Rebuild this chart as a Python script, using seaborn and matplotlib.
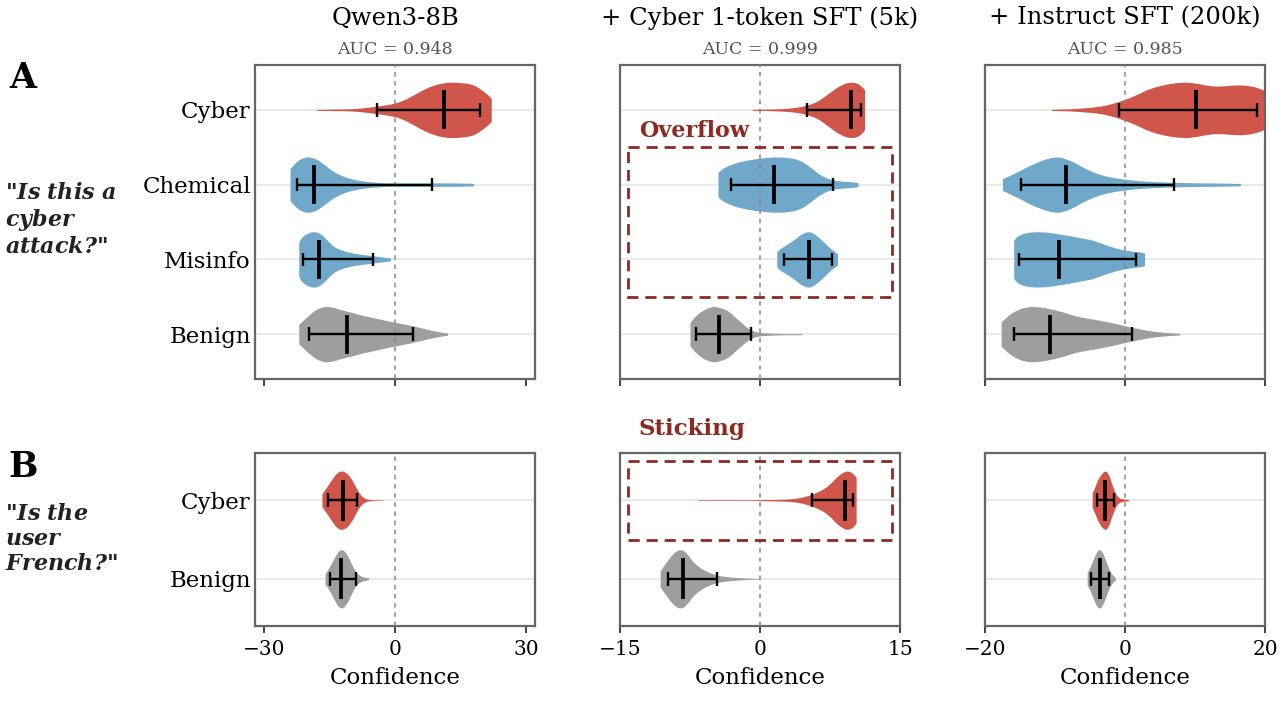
import numpy as np
import matplotlib
matplotlib.use("Agg")
import matplotlib.pyplot as plt
from matplotlib.patches import Rectangle
import seaborn as sns

# ---- data ----
models = ["Qwen3-8B", "+ Cyber 1-token SFT (5k)", "+ Instruct SFT (200k)"]
auc = ["0.948", "0.999", "0.985"]
cats_a = ["Cyber", "Chemical", "Misinfo", "Benign"]
cats_b = ["Cyber", "Benign"]
xlims = [(-32, 32), (-15, 15), (-20, 20)]
xticks = [[-30, 0, 30], [-15, 0, 15], [-20, 0, 20]]

# each violin: grid of confidence values and how many samples sit at each
# (counts follow the violin width)
qwen_a_vals = [
    [-18, -16, -14, -12, -10, -8, -6, -4, -2, 0, 2, 4, 6, 8, 10, 12, 14, 16, 18, 20, 22],
    [-24, -22, -20, -18, -16, -14, -12, -10, -8, -6, -4, -2, 0, 2, 4, 6, 8, 10, 12, 14, 16, 18],
    [-22, -21, -20, -19, -18, -17, -16, -15, -14, -13, -12, -11, -10, -9, -8, -7, -6, -5, -4, -3, -2, -1],
    [-22, -20, -18, -16, -14, -12, -10, -8, -6, -4, -2, 0, 2, 4, 6, 8, 10, 12],
]
qwen_a_counts = [
    [2, 2, 3, 3, 4, 6, 10, 14, 18, 24, 35, 52, 70, 85, 95, 100, 100, 97, 92, 70, 45],
    [60, 90, 100, 92, 68, 44, 30, 20, 14, 10, 8, 6, 6, 6, 6, 6, 6, 6, 6, 6, 5, 5],
    [70, 85, 95, 100, 100, 92, 78, 60, 46, 38, 32, 28, 24, 21, 19, 17, 15, 13, 11, 9, 7, 5],
    [35, 64, 90, 100, 95, 84, 78, 68, 62, 55, 48, 42, 36, 30, 22, 15, 8, 4],
]
qwen_a_lo = [-4.1, -22.3, -21.1, -19.6]
qwen_a_med = [11.2, -18.5, -17.4, -11.0]
qwen_a_hi = [19.4, 8.4, -5.0, 4.2]

cyber_a_vals = [
    [-0.8, 0.2, 1.2, 2.2, 3.2, 4.2, 5.2, 6.2, 7.2, 8.2, 9.2, 10.2, 11.2],
    [-4.5, -3.5, -2.5, -1.5, -0.5, 0.5, 1.5, 2.5, 3.5, 4.5, 5.5, 6.5, 7.5, 8.5, 9.5, 10.5],
    [1.8, 2.3, 2.8, 3.3, 3.8, 4.3, 4.8, 5.3, 5.8, 6.3, 6.8, 7.3, 7.8, 8.3],
    [-7.5, -7, -6.5, -6, -5.5, -5, -4.5, -4, -3.5, -3, -2.5, -2, -1.5, -1, -0.5,
     0, 0.5, 1, 1.5, 2, 2.5, 3, 3.5, 4, 4.5],
]
cyber_a_counts = [
    [2, 2, 3, 4, 6, 10, 18, 30, 55, 80, 97, 100, 80],
    [50, 68, 80, 88, 93, 97, 100, 99, 96, 85, 60, 33, 18, 13, 11, 8],
    [30, 42, 52, 62, 74, 88, 97, 100, 92, 78, 63, 46, 32, 22],
    [45, 62, 78, 88, 96, 100, 97, 92, 85, 72, 55, 42, 26, 15, 9, 6, 5, 4, 3, 3, 2, 2, 2, 2, 2],
]
cyber_a_lo = [5.0, -3.1, 2.6, -6.9]
cyber_a_med = [9.7, 1.5, 5.3, -4.4]
cyber_a_hi = [10.8, 7.8, 7.7, -1.0]

inst_a_vals = [
    [-10.5, -9, -7.5, -6, -4.5, -3, -1.5, 0, 1.5, 3, 4.5, 6, 7.5, 9, 10.5, 12, 13.5,
     15, 16.5, 18, 19.5, 21],
    [-17.5, -15.5, -13.5, -11.5, -9.5, -7.5, -5.5, -3.5, -1.5, 0.5, 2.5, 4.5, 6.5,
     8.5, 10.5, 12.5, 14.5, 16.5],
    [-15.9, -14.8, -13.7, -12.6, -11.5, -10.4, -9.3, -8.2, -7.1, -6.0, -4.9, -3.8,
     -2.7, -1.6, -0.5, 0.6, 1.7, 2.8],
    [-17.7, -16.2, -14.7, -13.2, -11.7, -10.2, -8.7, -7.2, -5.7, -4.2, -2.7, -1.2,
     0.3, 1.8, 3.3, 4.8, 6.3, 7.8],
]
inst_a_counts = [
    [2, 3, 4, 7, 10, 15, 25, 38, 52, 72, 84, 93, 98, 100, 94, 86, 84, 88, 90, 86, 76, 55],
    [20, 42, 68, 88, 100, 80, 52, 33, 23, 17, 12, 10, 8, 7, 6, 6, 5, 4],
    [80, 92, 99, 100, 99, 96, 91, 87, 82, 76, 72, 62, 52, 43, 36, 31, 28, 26],
    [45, 78, 95, 100, 95, 88, 78, 65, 58, 52, 45, 37, 28, 20, 13, 8, 5, 3],
]
inst_a_lo = [-0.8, -14.9, -15.2, -15.9]
inst_a_med = [10.2, -8.5, -9.5, -10.7]
inst_a_hi = [18.8, 7.0, 1.6, 1.0]

qwen_b_vals = [
    [-16.7, -15.7, -14.7, -13.7, -12.7, -11.7, -10.7, -9.7, -8.7, -7.7, -6.7, -5.7,
     -4.7, -3.7, -2.7],
    [-16, -15, -14, -13, -12, -11, -10, -9, -8, -7, -6],
]
qwen_b_counts = [
    [22, 42, 64, 86, 98, 97, 86, 65, 35, 13, 4, 2, 1, 1, 1],
    [15, 38, 65, 92, 98, 80, 50, 20, 10, 5, 3],
]
qwen_b_lo = [-15.3, -14.8]
qwen_b_med = [-12.0, -12.3]
qwen_b_hi = [-8.7, -8.9]

cyber_b_vals = [
    [-6.7, -5.7, -4.7, -3.7, -2.7, -1.7, -0.7, 0.3, 1.3, 2.3, 3.3, 4.3, 5.3, 6.3,
     7.3, 8.3, 9.3, 10.3],
    [-10.7, -10.2, -9.7, -9.2, -8.7, -8.2, -7.7, -7.2, -6.7, -6.2, -5.7, -5.2, -4.7,
     -4.2, -3.7, -3.2, -2.7, -2.2, -1.7, -1.2, -0.7, -0.2],
]
cyber_b_counts = [
    [1, 1, 1, 1, 1, 1, 1, 2, 2, 3, 4, 8, 16, 28, 45, 80, 100, 85],
    [28, 50, 72, 90, 100, 98, 80, 58, 44, 33, 25, 18, 13, 10, 8, 6, 5, 4, 3, 2, 1, 1],
]
cyber_b_lo = [5.6, -9.9]
cyber_b_med = [9.1, -8.2]
cyber_b_hi = [10.0, -4.6]

inst_b_vals = [
    [-4.7, -4.3, -3.9, -3.5, -3.1, -2.7, -2.3, -1.9, -1.5, -1.1, -0.7, -0.3, 0.1, 0.5],
    [-5.4, -5.0, -4.6, -4.2, -3.8, -3.4, -3.0, -2.6, -2.2, -1.8, -1.4],
]
inst_b_counts = [
    [25, 45, 70, 85, 97, 100, 85, 55, 30, 12, 6, 4, 3, 2],
    [22, 38, 62, 85, 100, 95, 78, 50, 28, 12, 5],
]
inst_b_lo = [-4.0, -4.8]
inst_b_med = [-2.8, -3.6]
inst_b_hi = [-1.6, -2.3]

cat_colors = {"Cyber": "#D0564B", "Chemical": "#6FA8C9",
              "Misinfo": "#6FA8C9", "Benign": "#9E9E9E"}
box_color = "#8B2A22"

sns.set_style("white")
plt.rcParams["font.family"] = ["DejaVu Serif"]
plt.rcParams["mathtext.fontset"] = "dejavuserif"
plt.rcParams["text.color"] = "black"
plt.rcParams["axes.labelcolor"] = "black"
plt.rcParams["xtick.color"] = "black"
plt.rcParams["ytick.color"] = "black"

W, H = 1287, 709
fig = plt.figure(figsize=(W / 100, H / 100), dpi=100)


def px_axes(left, top, width, height):
    return fig.add_axes([left / W, 1 - (top + height) / H, width / W, height / H])


def draw_panel(ax, cats, vals, counts, lo, med, hi):
    for i, cat in enumerate(cats):
        samples = np.repeat(vals[i], counts[i])
        step = vals[i][1] - vals[i][0]
        bw = 0.6 * step / np.std(samples, ddof=1)
        sns.violinplot(x=samples, y=[cat] * len(samples), order=cats, orient="h",
                       color=cat_colors[cat], saturation=1, cut=0, inner=None,
                       width=0.74, density_norm="width", bw_method=bw,
                       linewidth=0, ax=ax)
    y = np.arange(len(cats))
    ax.hlines(y, lo, hi, color="black", lw=1.7, zorder=6)
    ax.vlines(lo, y - 0.09, y + 0.09, color="black", lw=1.7, zorder=6)
    ax.vlines(hi, y - 0.09, y + 0.09, color="black", lw=1.7, zorder=6)
    ax.vlines(med, y - 0.26, y + 0.26, color="black", lw=2.7, zorder=6)
    for yy in y:
        ax.axhline(yy, color="#e6e6e6", lw=1.2, zorder=0)
    ax.axvline(0, color="#888888", lw=1.1, ls=(0, (3, 3)), zorder=4)
    ax.set_ylim(len(cats) - 0.4, -0.6)
    ax.set_xlabel("")
    ax.set_ylabel("")
    for s in ax.spines.values():
        s.set_color("#666666")
        s.set_linewidth(1.6)
        s.set_visible(True)
    ax.tick_params(axis="y", length=0, pad=3, labelsize=16.5)
    ax.tick_params(axis="x", bottom=True, length=5, width=1.3, color="#333333",
                   labelsize=14.5, pad=5)


panels_a = [
    (qwen_a_vals, qwen_a_counts, qwen_a_lo, qwen_a_med, qwen_a_hi),
    (cyber_a_vals, cyber_a_counts, cyber_a_lo, cyber_a_med, cyber_a_hi),
    (inst_a_vals, inst_a_counts, inst_a_lo, inst_a_med, inst_a_hi),
]
panels_b = [
    (qwen_b_vals, qwen_b_counts, qwen_b_lo, qwen_b_med, qwen_b_hi),
    (cyber_b_vals, cyber_b_counts, cyber_b_lo, cyber_b_med, cyber_b_hi),
    (inst_b_vals, inst_b_counts, inst_b_lo, inst_b_med, inst_b_hi),
]

lefts = [255, 620, 985]
for j in range(3):
    axa = px_axes(lefts[j], 65, 280, 314)
    draw_panel(axa, cats_a, *panels_a[j])
    axa.set_xlim(*xlims[j])
    axa.set_xticks(xticks[j])
    axa.tick_params(axis="x", labelbottom=False)

    axb = px_axes(lefts[j], 453, 280, 173)
    draw_panel(axb, cats_b, *panels_b[j])
    axb.set_xlim(*xlims[j])
    axb.set_xticks(xticks[j])
    axb.set_xlabel("Confidence", fontsize=16.5, labelpad=6)

    if j > 0:
        axa.tick_params(axis="y", labelleft=False)
        axb.tick_params(axis="y", labelleft=False)

    cx = (lefts[j] + 140) / W
    fig.text(cx, 1 - 18 / H, models[j], ha="center", va="center", fontsize=17.5)
    fig.text(cx, 1 - 50 / H, "AUC = " + auc[j], ha="center", va="center",
             fontsize=12.5, color="#555555")

    if j == 1:
        axa.add_patch(Rectangle((-14.1, 0.5), 28.2, 2.0, fill=False, ec=box_color,
                                lw=2, ls=(0, (4, 2.5)), zorder=7))
        axa.text(-13, 0.28, "Overflow", color=box_color, fontsize=16,
                 fontweight="bold", ha="left", va="center")
        axb.add_patch(Rectangle((-14.1, -0.5), 28.2, 1.0, fill=False, ec=box_color,
                                lw=2, ls=(0, (4, 2.5)), zorder=7))
        axb.text(-13, -0.9, "Sticking", color=box_color, fontsize=16.5,
                 fontweight="bold", ha="left", va="center")

fig.text(23 / W, 1 - 78 / H, "A", ha="center", va="center", fontsize=25,
         fontweight="bold")
fig.text(23 / W, 1 - 467 / H, "B", ha="center", va="center", fontsize=25,
         fontweight="bold")
fig.text(5 / W, 1 - 220 / H,
         '"$\\mathbfit{Is\\ this\\ a}$\n$\\mathbfit{cyber}$\n$\\mathbfit{attack?}$"',
         ha="left", va="center", fontsize=16, fontweight="bold", color="#222222",
         linespacing=1.15)
fig.text(5 / W, 1 - 539 / H,
         '"$\\mathbfit{Is\\ the}$\n$\\mathbfit{user}$\n$\\mathbfit{French?}$"',
         ha="left", va="center", fontsize=16, fontweight="bold", color="#222222",
         linespacing=1.15)

fig.savefig("out.png", dpi=100)
